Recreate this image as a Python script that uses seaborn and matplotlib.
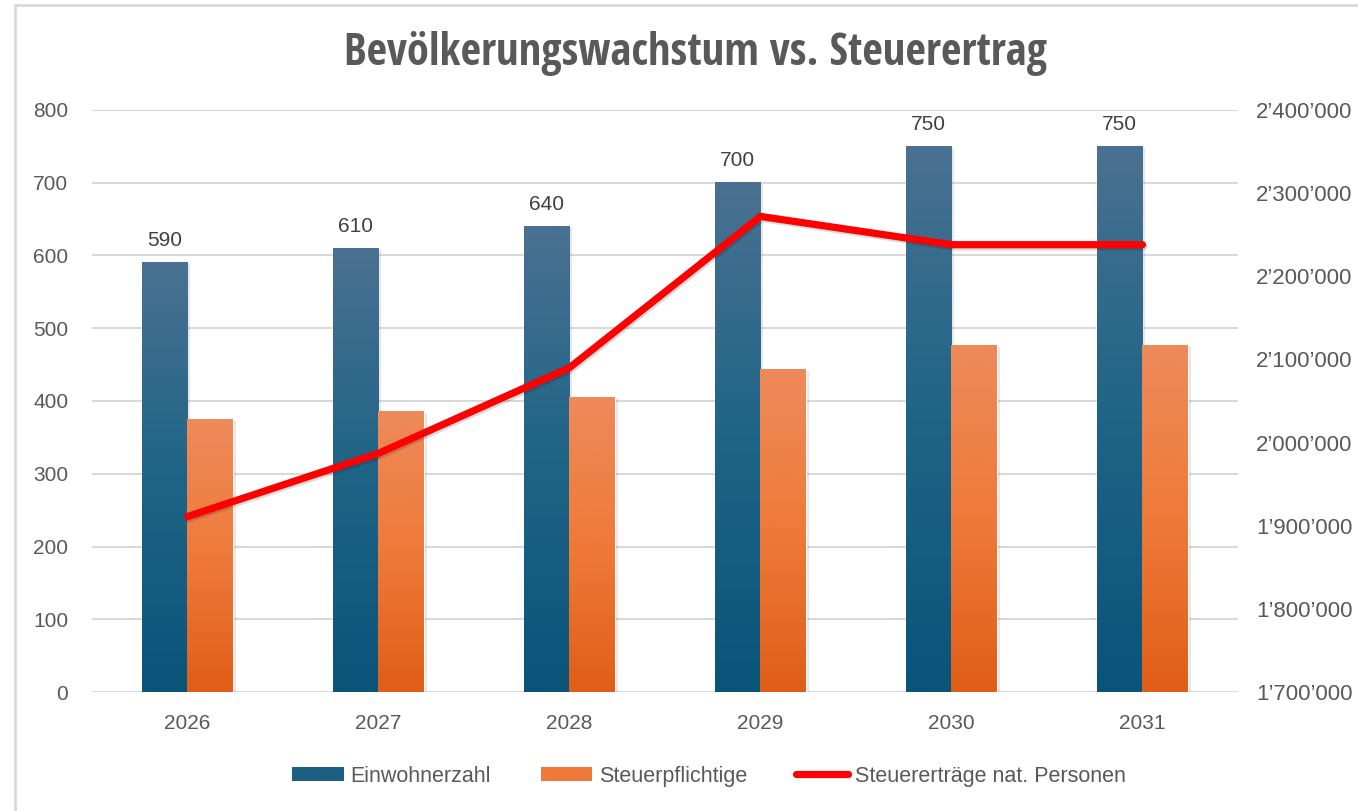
import numpy as np
import pandas as pd
import matplotlib
matplotlib.use("Agg")
import matplotlib.pyplot as plt
import matplotlib.patheffects as pe
from matplotlib.colors import LinearSegmentedColormap
from matplotlib.lines import Line2D
from matplotlib.patches import Patch
from matplotlib.ticker import FuncFormatter, MultipleLocator
import seaborn as sns

# Data
jahre = ["2026", "2027", "2028", "2029", "2030", "2031"]
einwohner = [590, 610, 640, 700, 750, 750]
steuerpflichtige = [374, 386, 405, 443, 476, 476]
steuerertraege = [1911000, 1987000, 2090000, 2272000, 2238000, 2238000]

serien = ["Einwohnerzahl", "Steuerpflichtige"]
linie_label = "Steuererträge nat. Personen"

narrow = ["Open Sans Condensed", "Noto Sans Condensed", "Roboto Condensed",
          "Liberation Sans Narrow", "DejaVu Sans Condensed", "Noto Sans"]
grau = "#595959"

sns.set_style("white")
plt.rcParams["font.family"] = ["Liberation Sans", "DejaVu Sans"]

df = pd.DataFrame({
    "Jahr": jahre * 2,
    "Serie": [serien[0]] * len(jahre) + [serien[1]] * len(jahre),
    "Wert": einwohner + steuerpflichtige,
})

fig = plt.figure(figsize=(13.58, 8.11), dpi=100)
ax = fig.add_axes([0.0677, 0.1467, 0.8439, 0.7177])

sns.barplot(data=df, x="Jahr", y="Wert", hue="Serie", ax=ax, width=0.48,
            palette=["#1B5F82", "#EE7A3A"], legend=False, saturation=1,
            err_kws={"linewidth": 0})

# gradient fill for each bar
cmaps = {
    0: LinearSegmentedColormap.from_list("blau", ["#0A5479", "#1E6487", "#4A7191"]),
    1: LinearSegmentedColormap.from_list("orange", ["#E05E17", "#EE7A3A", "#EE8A5A"]),
}
grad = np.linspace(0, 1, 256).reshape(-1, 1)
for i, cont in enumerate(ax.containers):
    for bar in cont:
        x0, y0 = bar.get_x(), bar.get_y()
        w, h = bar.get_width(), bar.get_height()
        bar.set_path_effects([pe.SimplePatchShadow(offset=(2, -1), alpha=0.1,
                                                   shadow_rgbFace="#000000"),
                              pe.Normal()])
        bar.set_zorder(2)
        ax.imshow(grad, extent=[x0, x0 + w, y0, y0 + h], origin="lower",
                  aspect="auto", cmap=cmaps[i], zorder=2.5, interpolation="bilinear")

ax.bar_label(ax.containers[0], padding=9, fontsize=15, color="#404040")

ax.set_xlim(-0.5, len(jahre) - 0.5)
ax.set_ylim(0, 800)
ax.yaxis.set_major_locator(MultipleLocator(100))
ax.grid(axis="y", color="#D9D9D9", linewidth=1.5, zorder=0)
ax.set_axisbelow(True)
for s in ax.spines.values():
    s.set_visible(False)
ax.set_xlabel("")
ax.set_ylabel("")
ax.tick_params(axis="both", length=0, labelsize=15, labelcolor=grau)
ax.tick_params(axis="y", pad=17)
ax.tick_params(axis="x", pad=16)

# revenue line on secondary axis
ax2 = ax.twinx()
sns.lineplot(x=np.arange(len(jahre)), y=steuerertraege, ax=ax2, color="#FF0000",
             linewidth=5.2, solid_capstyle="round", solid_joinstyle="round",
             path_effects=[pe.SimpleLineShadow(offset=(1, -1.5), alpha=0.15),
                           pe.Normal()], zorder=5)
ax2.set_ylim(1700000, 2400000)
ax2.yaxis.set_major_locator(MultipleLocator(100000))
ax2.yaxis.set_major_formatter(FuncFormatter(lambda v, p: f"{int(v):,}".replace(",", "’")))
ax2.tick_params(axis="y", length=0, labelsize=16, labelcolor=grau, pad=13)
for s in ax2.spines.values():
    s.set_visible(False)
ax2.set_ylabel("")

fig.text(0.512, 1 - 53 / 811, "Bevölkerungswachstum vs. Steuerertrag",
         ha="center", va="center", fontsize=32, fontweight="bold", color=grau,
         family=narrow, fontstretch="condensed")

# legend
handles = [Patch(facecolor="#1B5F82", edgecolor="none"),
           Patch(facecolor="#EE7A3A", edgecolor="none"),
           Line2D([0], [0], color="#FF0000", linewidth=5.2, solid_capstyle="round")]
fig.legend(handles, serien + [linie_label], loc="center", bbox_to_anchor=(0.522, 0.043),
           ncol=3, frameon=False, handlelength=2.4, handleheight=0.65, columnspacing=2.3,
           handletextpad=0.3, labelcolor=grau, prop={"size": 15.5})

# chart frame (partly visible at top and left)
fig.add_artist(Line2D([15 / 1358, 1], [1 - 5 / 811] * 2, color="#D9D9D9", linewidth=2))
fig.add_artist(Line2D([15 / 1358] * 2, [0, 1 - 5 / 811], color="#D9D9D9", linewidth=2))

fig.savefig("out.png", dpi=100, facecolor="white")
